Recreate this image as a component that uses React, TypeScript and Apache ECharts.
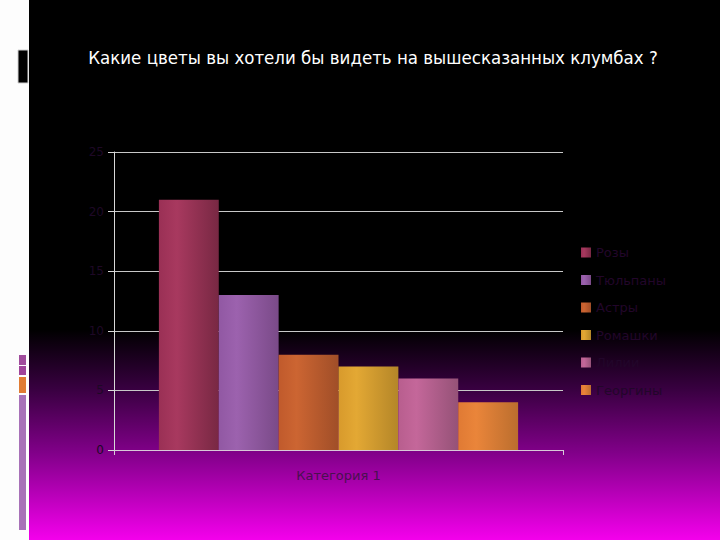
import { useEffect, useRef } from 'react';
import * as echarts from 'echarts';

const categories = ['Категория 1'];
const seriesNames = ['Розы', 'Тюльпаны', 'Астры', 'Ромашки', 'Лилии', 'Георгины'];
const seriesValues = [21, 13, 8, 7, 6, 4];
// [left, light, right] shades per bar
const barShades = [
  ['#9a3055', '#a8395f', '#782843'],
  ['#9158a3', '#9c62ae', '#7a4a88'],
  ['#c05a2c', '#cc6532', '#a04e28'],
  ['#d89a2c', '#e3a834', '#b48628'],
  ['#b85e8e', '#c4679a', '#955277'],
  ['#e07a34', '#ea853a', '#bb6e2e'],
];
const legendColors = ['#c03060', '#a060c0', '#e07030', '#e8b030', '#d060a0', '#f08830'];

export default function App() {
  const elRef = useRef<HTMLDivElement>(null);

  useEffect(() => {
    const el = elRef.current;
    if (!el) return;
    document.body.style.margin = '0';
    const chart = echarts.init(el, undefined, { renderer: 'svg' });

    const series = seriesNames.map((name, i) => ({
      name,
      type: 'bar' as const,
      barGap: '0%',
      barCategoryGap: '20%',
      data: [seriesValues[i]],
      itemStyle: {
        color: new echarts.graphic.LinearGradient(0, 0, 1, 0, [
          { offset: 0, color: barShades[i][0] },
          { offset: 0.3, color: barShades[i][1] },
          { offset: 1, color: barShades[i][2] },
        ]),
      },
    }));

    chart.setOption({
      animation: false,
      backgroundColor: '#fdfdfd',
      color: legendColors,
      graphic: [
        {
          type: 'rect',
          z: -10,
          silent: true,
          shape: { x: 29, y: 0, width: 691, height: 540 },
          style: {
            fill: new echarts.graphic.LinearGradient(0, 0, 0, 1, [
              { offset: 0, color: '#000000' },
              { offset: 0.61, color: '#000000' },
              { offset: 0.72, color: '#380040' },
              { offset: 0.84, color: '#82008a' },
              { offset: 1, color: '#f400ec' },
            ]),
          },
        },
        {
          type: 'rect',
          silent: true,
          shape: { x: 18, y: 50, width: 10, height: 33 },
          style: { fill: '#000000', stroke: '#d0d0d0', lineWidth: 1 },
        },
        {
          type: 'rect',
          silent: true,
          shape: { x: 19, y: 355, width: 7, height: 10 },
          style: { fill: '#a04c9c' },
        },
        {
          type: 'rect',
          silent: true,
          shape: { x: 19, y: 366, width: 7, height: 9 },
          style: { fill: '#a0449a' },
        },
        {
          type: 'rect',
          silent: true,
          shape: { x: 19, y: 377, width: 7, height: 16 },
          style: { fill: '#e07c34' },
        },
        {
          type: 'rect',
          silent: true,
          shape: { x: 19, y: 395, width: 7, height: 135 },
          style: { fill: '#a872b8' },
        },
      ],
      title: {
        text: 'Какие цветы вы хотели бы видеть на вышесказанных клумбах ?',
        left: 368,
        top: 43,
        textAlign: 'center',
        textStyle: {
          color: '#ffffff',
          fontFamily: 'DejaVu Sans Condensed',
          fontSize: 18.5,
          fontWeight: 'normal',
        },
      },
      legend: {
        orient: 'vertical',
        left: 576,
        top: 241,
        itemWidth: 10,
        itemHeight: 10,
        itemGap: 14.5,
        icon: 'rect',
        textStyle: { color: '#22062a', fontSize: 13, fontFamily: 'DejaVu Sans' },
        data: seriesNames,
      },
      grid: { left: 114, right: 157, top: 152, bottom: 90 },
      xAxis: {
        type: 'category',
        data: categories,
        axisLine: { lineStyle: { color: '#d8c8d8', width: 1 } },
        axisTick: { show: true, length: 5, lineStyle: { color: '#d8c8d8' } },
        axisLabel: {
          color: '#4a1050',
          fontSize: 13,
          fontFamily: 'DejaVu Sans',
          margin: 19,
        },
      },
      yAxis: {
        type: 'value',
        min: 0,
        max: 25,
        interval: 5,
        axisLine: { show: true, lineStyle: { color: '#d8d8d8', width: 1 } },
        axisTick: { show: true, length: 6, lineStyle: { color: '#d8d8d8' } },
        splitLine: { lineStyle: { color: '#c8c8c8', width: 1 } },
        axisLabel: { color: '#1e0826', fontSize: 12, fontFamily: 'DejaVu Sans', margin: 10 },
      },
      series,
    });

    return () => chart.dispose();
  }, []);

  return (
    <div
      ref={elRef}
      style={{ position: 'absolute', left: 0, top: 0, width: 720, height: 540 }}
    />
  );
}
